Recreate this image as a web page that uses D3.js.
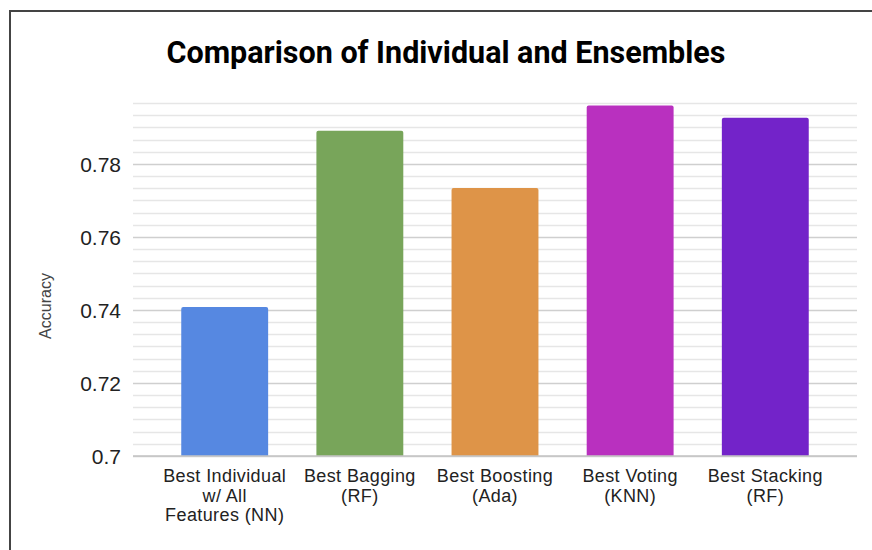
<!DOCTYPE html>
<html>
<head>
<meta charset="utf-8">
<script src="https://cdn.jsdelivr.net/npm/d3@7"></script>
<style>
  html, body { margin: 0; padding: 0; background: #fff; }
  svg { display: block; }
</style>
</head>
<body>
<svg id="chart" width="872" height="550"></svg>
<script>
// Accuracy of the best single model and of each ensemble method
const categories = [
  ["Best Individual", "w/ All", "Features (NN)"],
  ["Best Bagging", "(RF)"],
  ["Best Boosting", "(Ada)"],
  ["Best Voting", "(KNN)"],
  ["Best Stacking", "(RF)"]
];
const accuracy = [0.7408, 0.7891, 0.7734, 0.7960, 0.7926];
const barColors = ["#5688e1", "#78a55a", "#de9448", "#b930bf", "#7323c9"];
const yTicks = [0.7, 0.72, 0.74, 0.76, 0.78];
const yTickLabels = ["0.7", "0.72", "0.74", "0.76", "0.78"];

const svg = d3.select("#chart");
const W = 872, H = 550;
const plot = { left: 133, right: 857, top: 103, bottom: 456 };
const bodyFont = "'Liberation Sans', Arial, Helvetica, sans-serif";

// frame lines along the left and top edges
svg.append("line").attr("x1", 10).attr("x2", 10).attr("y1", 10).attr("y2", H)
  .attr("stroke", "#444").attr("stroke-width", 2);
svg.append("line").attr("x1", 9).attr("x2", W).attr("y1", 11).attr("y2", 11)
  .attr("stroke", "#444").attr("stroke-width", 2);

const yMin = 0.7, step = 0.02, minorPerMajor = 6;
const yMax = 0.78 + step * 5 / minorPerMajor;

const y = d3.scaleLinear().domain([yMin, yMax]).range([plot.bottom, plot.top]);
const x = d3.scaleBand().domain(d3.range(categories.length))
  .range([plot.left, plot.right]).padding(0.357);

// minor and major gridlines
const minorVals = d3.range(0, Math.round((yMax - yMin) / (step / minorPerMajor)) + 1)
  .map(i => yMin + i * step / minorPerMajor);
const grid = svg.append("g");
minorVals.forEach((v, i) => {
  const major = i % minorPerMajor === 0;
  grid.append("line")
    .attr("x1", plot.left).attr("x2", plot.right)
    .attr("y1", Math.round(y(v)) + 0.5).attr("y2", Math.round(y(v)) + 0.5)
    .attr("stroke", major ? "#cfcfcf" : "#e6e6e6")
    .attr("stroke-width", 1.3);
});

// bars with slightly rounded tops
const r = 2;
svg.append("g").selectAll("path").data(accuracy).join("path")
  .attr("fill", (d, i) => barColors[i])
  .attr("d", (d, i) => {
    const x0 = x(i), x1 = x(i) + x.bandwidth(), yt = y(d), yb = y(yMin);
    return `M${x0},${yb}V${yt + r}Q${x0},${yt} ${x0 + r},${yt}H${x1 - r}Q${x1},${yt} ${x1},${yt + r}V${yb}Z`;
  });

// baseline
svg.append("line").attr("x1", plot.left).attr("x2", plot.right)
  .attr("y1", y(yMin)).attr("y2", y(yMin))
  .attr("stroke", "#c4c4c4").attr("stroke-width", 1.5);

// y axis tick labels
const yAxis = d3.axisLeft(y).tickValues(yTicks)
  .tickFormat((d, i) => yTickLabels[i]).tickSize(0).tickPadding(0);
const yg = svg.append("g").attr("transform", `translate(121,0)`).call(yAxis);
yg.select(".domain").remove();
yg.selectAll("text")
  .attr("font-family", bodyFont)
  .attr("font-size", 21).attr("fill", "#222").attr("dy", "0.36em");

// x category labels
const xg = svg.append("g");
categories.forEach((lines, i) => {
  const t = xg.append("text")
    .attr("x", x(i) + x.bandwidth() / 2)
    .attr("y", 482)
    .attr("text-anchor", "middle")
    .attr("font-family", bodyFont)
    .attr("font-size", 18).attr("letter-spacing", 0.4).attr("fill", "#222");
  lines.forEach((ln, j) => {
    t.append("tspan").attr("x", x(i) + x.bandwidth() / 2)
      .attr("dy", j === 0 ? 0 : 19.5).text(ln);
  });
});

// y axis title
svg.append("text")
  .attr("transform", `translate(51,306) rotate(-90)`)
  .attr("text-anchor", "middle")
  .attr("font-family", bodyFont)
  .attr("font-size", 16).attr("fill", "#444")
  .text("Accuracy");

// chart title
svg.append("text")
  .attr("x", 446).attr("y", 63)
  .attr("text-anchor", "middle")
  .attr("font-family", "Roboto, 'Liberation Sans', Arial, sans-serif")
  .attr("font-weight", "bold")
  .attr("font-size", 30.5).attr("fill", "#000")
  .text("Comparison of Individual and Ensembles");
</script>
</body>
</html>
